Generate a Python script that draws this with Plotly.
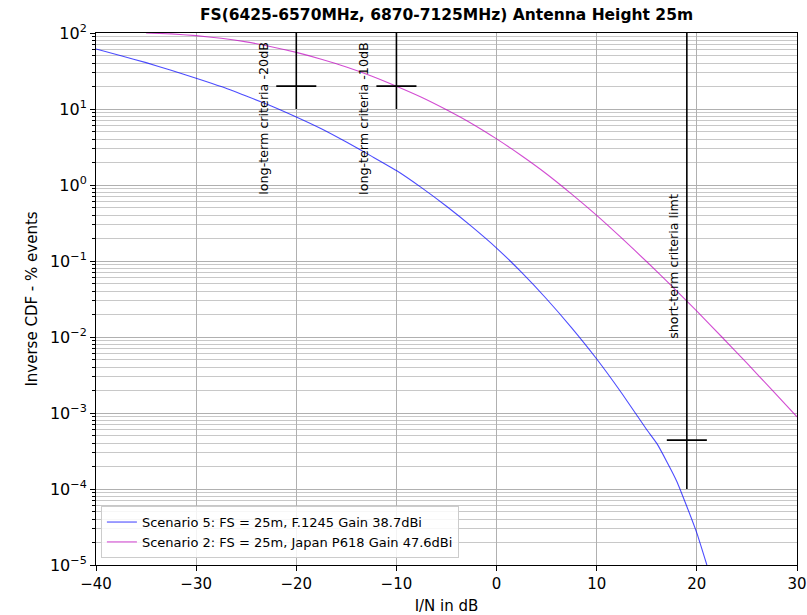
import plotly.graph_objects as go

# ---- Data ----
# Scenario 5 (blue): I/N (dB) and log10 of inverse CDF (% events)
s5_x = [-40, -37.5, -35, -32.5, -30, -27.5, -25, -22.5, -20, -17.5, -15, -12.5, -10, -7.5, -5,
        -2.5, 0, 2.5, 5, 7.5, 10, 12.5, 15, 16, 17, 18, 19, 20, 21]
s5_log = [1.79, 1.70, 1.61, 1.51, 1.405, 1.295, 1.17, 1.04, 0.895, 0.74, 0.565, 0.38, 0.19, -0.035, -0.28,
          -0.545, -0.83, -1.15, -1.50, -1.88, -2.29, -2.74, -3.22, -3.40, -3.64, -3.90, -4.23, -4.58, -5.0]
s5_y = [10 ** v for v in s5_log]

# Scenario 2 (magenta)
s2_x = [-35, -32.5, -30, -27.5, -25, -22.5, -20, -17.5, -15, -12.5, -10, -7.5, -5, -2.5, 0,
        2.5, 5, 7.5, 10, 12.5, 15, 17.5, 20, 22.5, 25, 27.5, 30]
s2_log = [2.0, 1.988, 1.965, 1.93, 1.883, 1.82, 1.745, 1.655, 1.553, 1.435, 1.30, 1.155, 0.99, 0.81, 0.607,
          0.385, 0.145, -0.12, -0.40, -0.70, -1.01, -1.33, -1.66, -2.0, -2.345, -2.695, -3.05]
s2_y = [10 ** v for v in s2_log]

s5_name = "Scenario 5: FS = 25m, F.1245 Gain 38.7dBi"
s2_name = "Scenario 2: FS = 25m, Japan P618 Gain 47.6dBi"

# Criteria markers: vertical line x, vertical extent, crosshair y, crosshair half-width
crit_x = [-20, -10, 19]
crit_vtop = [100, 100, 100]
crit_vbot = [10, 10, 1e-4]
crit_ch_y = [20, 20, 4.4e-4]
crit_ch_half = [2, 2, 2]
crit_labels = ["long-term criteria -20dB", "long-term criteria -10dB", "short-term criteria limt"]
crit_label_x = [-23.3, -13.3, 17.6]
crit_label_logy = [0.875, 0.875, -1.066]

y_tickvals = [1e-5, 1e-4, 1e-3, 1e-2, 1e-1, 1e0, 1e1, 1e2]
y_ticktext = ["10<sup>\u22125</sup>", "10<sup>\u22124</sup>", "10<sup>\u22123</sup>", "10<sup>\u22122</sup>",
              "10<sup>\u22121</sup>", "10<sup>0</sup>", "10<sup>1</sup>", "10<sup>2</sup>"]

FONT = "DejaVu Sans"

fig = go.Figure()
fig.add_trace(go.Scatter(x=s5_x, y=s5_y, mode="lines", name=s5_name,
                         line=dict(color="rgba(0,0,255,0.7)", width=1.1, shape="spline", smoothing=0.5)))
fig.add_trace(go.Scatter(x=s2_x, y=s2_y, mode="lines", name=s2_name,
                         line=dict(color="rgba(191,0,191,0.7)", width=1.1, shape="spline", smoothing=0.5)))

for cx, vt, vb, cy, hw in zip(crit_x, crit_vtop, crit_vbot, crit_ch_y, crit_ch_half):
    fig.add_trace(go.Scatter(x=[cx, cx], y=[vt, vb], mode="lines", showlegend=False,
                             line=dict(color="black", width=1.6), hoverinfo="skip"))
    fig.add_trace(go.Scatter(x=[cx - hw, cx + hw], y=[cy, cy], mode="lines", showlegend=False,
                             line=dict(color="black", width=1.6), hoverinfo="skip"))

for lbl, lx, ly in zip(crit_labels, crit_label_x, crit_label_logy):
    fig.add_annotation(x=lx, y=ly, xref="x", yref="y", text=lbl, textangle=-90, showarrow=False,
                       font=dict(family=FONT, size=12.7, color="black"),
                       xanchor="center", yanchor="middle")

fig.update_layout(
    width=807, height=615, autosize=False,
    margin=dict(l=96, r=10, t=33, b=50, autoexpand=False),
    paper_bgcolor="white", plot_bgcolor="white",
    font=dict(family=FONT, size=15, color="black"),
    title=dict(text="<b>FS(6425-6570MHz, 6870-7125MHz) Antenna Height 25m</b>",
               x=(96 + 350.5) / 807, xanchor="center", y=1 - 15 / 615, yanchor="middle",
               font=dict(family=FONT, size=15.5, color="black")),
    legend=dict(x=0.007, y=0.013, xanchor="left", yanchor="bottom",
                bgcolor="rgba(255,255,255,0.85)", bordercolor="#cccccc", borderwidth=1,
                font=dict(family=FONT, size=13), tracegroupgap=0, itemwidth=30),
    showlegend=True,
)

fig.update_xaxes(range=[-40, 30], dtick=10, tick0=0, automargin=False,
                 showgrid=True, gridcolor="#b0b0b0", gridwidth=1,
                 showline=True, linecolor="black", linewidth=1, mirror=True,
                 ticks="outside", ticklen=5, tickcolor="black", zeroline=False,
                 tickfont=dict(family=FONT, size=15),
                 title=dict(text="I/N in dB", font=dict(family=FONT, size=15), standoff=8))

fig.update_yaxes(type="log", range=[-5, 2], tickvals=y_tickvals, ticktext=y_ticktext, automargin=False,
                 showgrid=True, gridcolor="#b0b0b0", gridwidth=1,
                 showline=True, linecolor="black", linewidth=1, mirror=True,
                 ticks="outside", ticklen=5, tickcolor="black", zeroline=False,
                 tickfont=dict(family=FONT, size=16),
                 minor=dict(showgrid=True, gridcolor="#c8c8c8", gridwidth=1, ticks="outside",
                            ticklen=3, tickcolor="black", dtick="D1"),
                 title=dict(text="Inverse CDF - % events", font=dict(family=FONT, size=15), standoff=8))

fig.write_html("out.html", config={"displayModeBar": False},
               post_script="document.body.style.margin='0px';document.body.style.overflow='hidden';")
